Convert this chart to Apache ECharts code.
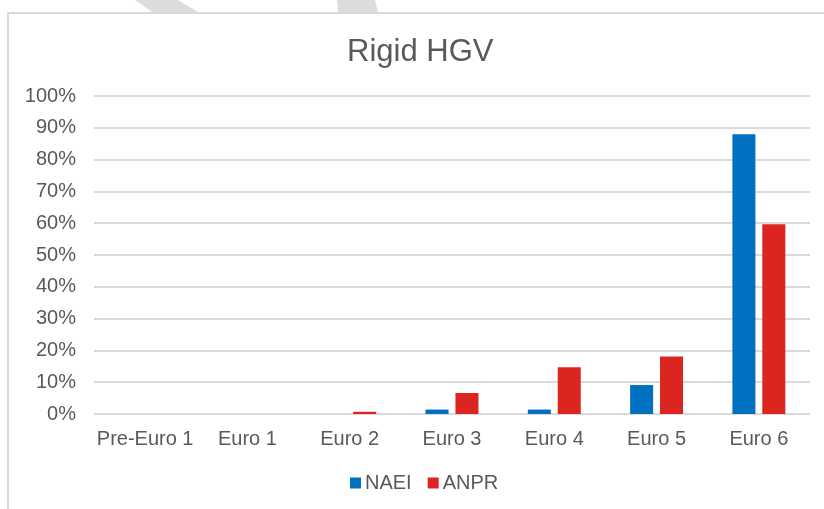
<!DOCTYPE html>
<html>
<head>
<meta charset="utf-8">
<script src="https://cdn.jsdelivr.net/npm/echarts@6/dist/echarts.min.js"></script>
<style>
  html, body { margin: 0; padding: 0; background: #fff; }
  #chart { width: 824px; height: 509px; }
</style>
</head>
<body>
<div id="chart"></div>
<script>
const categories = ['Pre-Euro 1', 'Euro 1', 'Euro 2', 'Euro 3', 'Euro 4', 'Euro 5', 'Euro 6'];
const naei = [0, 0, 0, 1.4, 1.4, 9.1, 88.0];
const anpr = [0, 0, 0.7, 6.6, 14.7, 18.1, 59.7];

const TEXT = '#595959';
const FONT = '"Liberation Sans", Arial, sans-serif';

const chart = echarts.init(document.getElementById('chart'), null, { renderer: 'canvas' });

chart.setOption({
  backgroundColor: '#fff',
  animation: false,
  textStyle: { fontFamily: FONT },
  title: {
    text: 'Rigid HGV',
    left: 342,
    top: 32,
    textStyle: { fontSize: 31, fontWeight: 'normal', color: TEXT, fontFamily: FONT }
  },
  legend: {
    bottom: 11,
    left: 345,
    itemWidth: 11,
    itemHeight: 11,
    itemGap: 16,
    icon: 'rect',
    textStyle: { fontSize: 20, color: TEXT, fontFamily: FONT, padding: [0, 0, 0, -1] },
    data: ['NAEI', 'ANPR']
  },
  grid: { left: 94, right: 14, top: 96, bottom: 95, containLabel: false },
  xAxis: {
    type: 'category',
    data: categories,
    axisLine: { show: false },
    axisTick: { show: false },
    axisLabel: { fontSize: 20, color: TEXT, margin: 15, interval: 0 }
  },
  yAxis: {
    type: 'value',
    min: 0,
    max: 100,
    interval: 10,
    axisLine: { show: false },
    axisTick: { show: false },
    axisLabel: { fontSize: 20, color: TEXT, margin: 18, formatter: '{value}%' },
    splitLine: { lineStyle: { color: '#dadada', width: 2 } }
  },
  series: [
    {
      name: 'NAEI',
      type: 'bar',
      data: naei,
      barWidth: '22.5%',
      barGap: '30%',
      itemStyle: { color: '#0070c0' }
    },
    {
      name: 'ANPR',
      type: 'bar',
      data: anpr,
      barWidth: '22.5%',
      itemStyle: { color: '#dc2420' }
    }
  ],
  graphic: [
    {
      type: 'polygon',
      silent: true,
      shape: { points: [[135, 0], [178, 0], [198, 12], [152, 12]] },
      style: { fill: '#dcdcdc' }
    },
    {
      type: 'polygon',
      silent: true,
      shape: { points: [[337, 0], [375, 0], [378, 12], [338, 12]] },
      style: { fill: '#dcdcdc' }
    },
    {
      type: 'rect',
      silent: true,
      shape: { x: 8, y: 13, width: 900, height: 600 },
      style: { fill: null, stroke: '#d9d9d9', lineWidth: 2 }
    }
  ]
});
</script>
</body>
</html>
